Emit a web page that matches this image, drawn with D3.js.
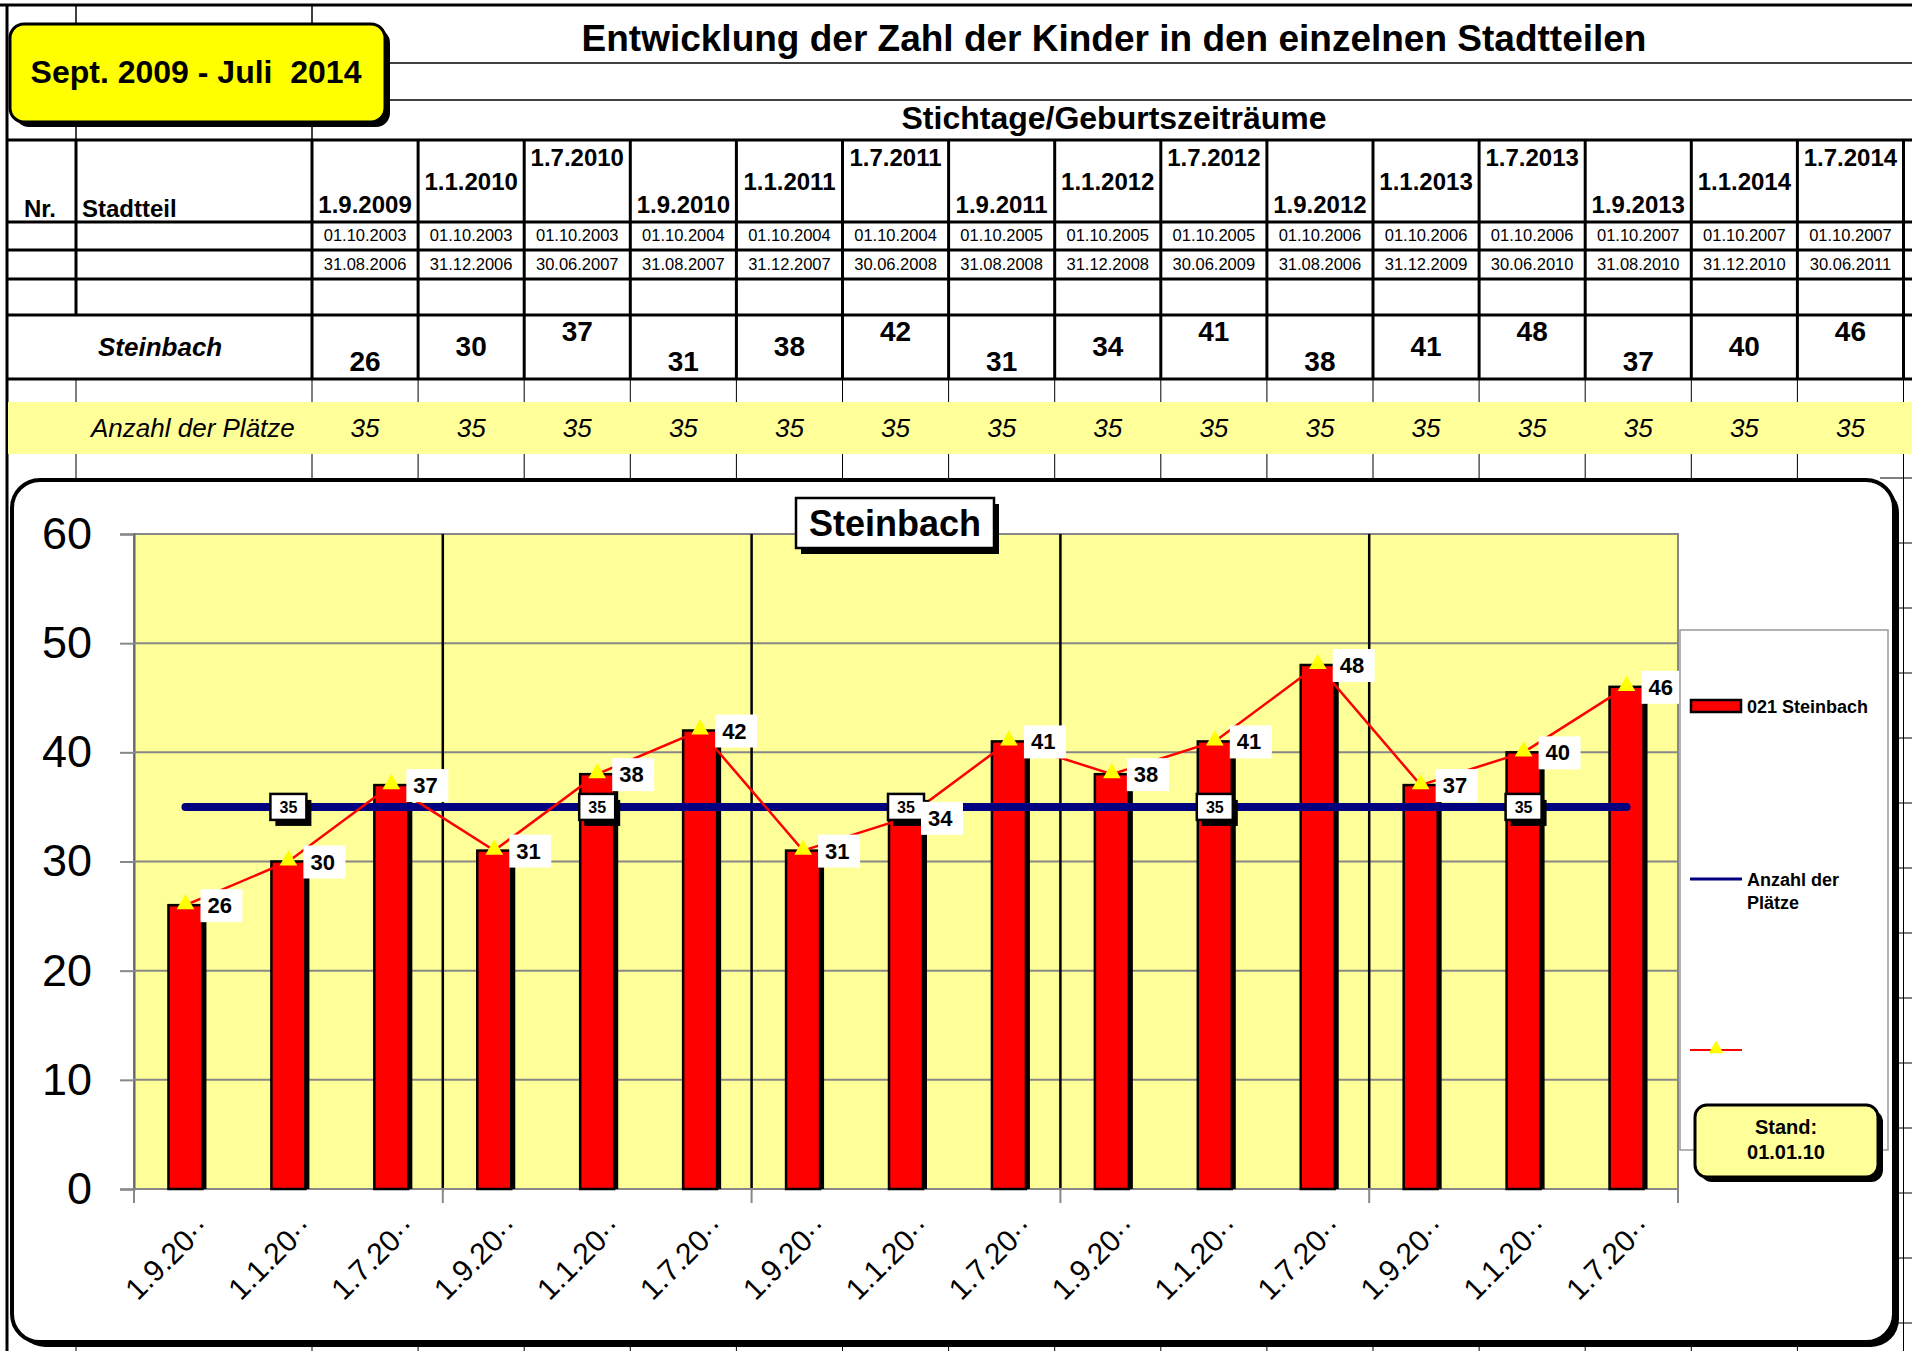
<!DOCTYPE html>
<html>
<head>
<meta charset="utf-8">
<script src="https://cdn.jsdelivr.net/npm/d3@7"></script>
<style>
  body { margin: 0; background: #fff; }
  text { font-family: "Liberation Sans", Arial, sans-serif; }
</style>
</head>
<body>
<script>
// Stichtage / Geburtszeitraeume
const stichtage = ["1.9.2009","1.1.2010","1.7.2010","1.9.2010","1.1.2011","1.7.2011","1.9.2011","1.1.2012","1.7.2012","1.9.2012","1.1.2013","1.7.2013","1.9.2013","1.1.2014","1.7.2014"];
const geburtVon = ["01.10.2003","01.10.2003","01.10.2003","01.10.2004","01.10.2004","01.10.2004","01.10.2005","01.10.2005","01.10.2005","01.10.2006","01.10.2006","01.10.2006","01.10.2007","01.10.2007","01.10.2007"];
const geburtBis = ["31.08.2006","31.12.2006","30.06.2007","31.08.2007","31.12.2007","30.06.2008","31.08.2008","31.12.2008","30.06.2009","31.08.2006","31.12.2009","30.06.2010","31.08.2010","31.12.2010","30.06.2011"];
const kinder = [26, 30, 37, 31, 38, 42, 31, 34, 41, 38, 41, 48, 37, 40, 46];
const plaetze = [35, 35, 35, 35, 35, 35, 35, 35, 35, 35, 35, 35, 35, 35, 35];
const yTicks = [0, 10, 20, 30, 40, 50, 60];

const W = 1912, H = 1351;
const YELLOW = "#ffff99";

const svg = d3.select("body").append("svg")
    .attr("width", W)
    .attr("height", H);

// ---------- spreadsheet part ----------
const col = d3.scaleBand()
    .domain(stichtage)
    .range([312, 312 + 15 * 106.1]);

function hline(y, x1, x2, w) {
  svg.append("line").attr("x1", x1).attr("x2", x2).attr("y1", y).attr("y2", y)
      .attr("stroke", "#000").attr("stroke-width", w);
}
function vline(x, y1, y2, w) {
  svg.append("line").attr("x1", x).attr("x2", x).attr("y1", y1).attr("y2", y2)
      .attr("stroke", "#000").attr("stroke-width", w);
}

// outer border
hline(5, 0, W, 3);
vline(7, 4, H, 3);

// title area
vline(76, 5, 140, 1.5);
vline(312, 5, 140, 1.5);
hline(63, 388, W, 1.5);
hline(100, 388, W, 1.5);

// header + value rows
[140, 222, 250, 279, 315, 379].forEach(y => hline(y, 7, W, 3));
vline(76, 140, 315, 3);
const colEdges = stichtage.map(d => col(d)).concat([col.range()[1]]);
colEdges.forEach(x => vline(x, 140, 379, 3));

// thin grid below (columns run behind the chart box)
[76].concat(colEdges).forEach(x => vline(x, 379, H, 1));
// row stubs on the right of the chart box
d3.range(478, H, 65).forEach(y => hline(y, 1880, W, 1));

// yellow band "Anzahl der Plätze"
svg.append("rect").attr("x", 8).attr("y", 402).attr("width", W).attr("height", 52).attr("fill", YELLOW);

// titles
svg.append("text").attr("x", 1114).attr("y", 51).attr("text-anchor", "middle")
    .style("font-size", "37px").style("font-weight", "bold")
    .text("Entwicklung der Zahl der Kinder in den einzelnen Stadtteilen");
svg.append("text").attr("x", 1114).attr("y", 129).attr("text-anchor", "middle")
    .style("font-size", "32px").style("font-weight", "bold")
    .text("Stichtage/Geburtszeiträume");

// yellow period box
svg.append("rect").attr("x", 15).attr("y", 29).attr("width", 375).attr("height", 98).attr("rx", 14)
    .attr("fill", "#000");
svg.append("rect").attr("x", 10).attr("y", 24).attr("width", 375).attr("height", 98).attr("rx", 14)
    .attr("fill", "#ffff00").attr("stroke", "#000").attr("stroke-width", 3);
svg.append("text").attr("x", 196).attr("y", 83).attr("text-anchor", "middle")
    .style("font-size", "32px").style("font-weight", "bold").style("white-space", "pre")
    .text("Sept. 2009 - Juli  2014");

// row headings
svg.append("text").attr("x", 24).attr("y", 217).style("font-size", "24px").style("font-weight", "bold").text("Nr.");
svg.append("text").attr("x", 82).attr("y", 217).style("font-size", "24px").style("font-weight", "bold").text("Stadtteil");
svg.append("text").attr("x", 98).attr("y", 356).style("font-size", "26px").style("font-weight", "bold")
    .style("font-style", "italic").text("Steinbach");
svg.append("text").attr("x", 91).attr("y", 437).style("font-size", "26px")
    .style("font-style", "italic").text("Anzahl der Plätze");

const cc = d => col(d) + col.bandwidth() / 2;
const headBase = [213, 190, 166];
const valBase = [371, 356, 341];

svg.selectAll(".hdate").data(stichtage).enter().append("text")
    .attr("x", d => cc(d)).attr("y", (d, i) => headBase[i % 3])
    .attr("text-anchor", "middle").style("font-size", "24px").style("font-weight", "bold")
    .text(d => d);
svg.selectAll(".von").data(geburtVon).enter().append("text")
    .attr("x", (d, i) => cc(stichtage[i])).attr("y", 241)
    .attr("text-anchor", "middle").style("font-size", "16.5px").text(d => d);
svg.selectAll(".bis").data(geburtBis).enter().append("text")
    .attr("x", (d, i) => cc(stichtage[i])).attr("y", 270)
    .attr("text-anchor", "middle").style("font-size", "16.5px").text(d => d);
svg.selectAll(".kval").data(kinder).enter().append("text")
    .attr("x", (d, i) => cc(stichtage[i])).attr("y", (d, i) => valBase[i % 3])
    .attr("text-anchor", "middle").style("font-size", "28px").style("font-weight", "bold").text(d => d);
svg.selectAll(".pval").data(plaetze).enter().append("text")
    .attr("x", (d, i) => cc(stichtage[i])).attr("y", 437)
    .attr("text-anchor", "middle").style("font-size", "26px").style("font-style", "italic").text(d => d);

// ---------- chart box ----------
svg.append("rect").attr("x", 17).attr("y", 485).attr("width", 1882).attr("height", 862).attr("rx", 28)
    .attr("fill", "#000");
svg.append("rect").attr("x", 12).attr("y", 480).attr("width", 1882).attr("height", 862).attr("rx", 28)
    .attr("fill", "#fff").attr("stroke", "#000").attr("stroke-width", 4);

const x = d3.scaleBand().domain(stichtage).range([134, 1678]);
const y = d3.scaleLinear().domain([0, 60]).range([1189, 534]);
const cx = d => x(d) + x.bandwidth() / 2;

// plot area
svg.append("rect").attr("x", 134).attr("y", y(60)).attr("width", 1544).attr("height", y(0) - y(60))
    .attr("fill", YELLOW).attr("stroke", "#888").attr("stroke-width", 2);

// gridlines + y axis
svg.append("g")
    .attr("transform", "translate(134,0)")
    .call(d3.axisLeft(y).tickValues(yTicks).tickSize(14).tickPadding(28))
    .call(g => g.select(".domain").attr("stroke", "#666").attr("stroke-width", 2))
    .call(g => g.selectAll(".tick line").attr("stroke", "#888").attr("stroke-width", 2))
    .call(g => g.selectAll(".tick text").style("font-size", "45px").attr("fill", "#000")
        .style("font-family", "Liberation Sans, Arial, sans-serif"));
svg.append("g").selectAll("line").data(yTicks.slice(1, -1)).enter().append("line")
    .attr("x1", 134).attr("x2", 1678).attr("y1", d => y(d)).attr("y2", d => y(d))
    .attr("stroke", "#888").attr("stroke-width", 2);

// group separators (every 3 Stichtage)
const groupEdges = stichtage.filter((d, i) => i % 3 === 0 && i > 0).map(d => x(d));
svg.append("g").selectAll("line").data(groupEdges).enter().append("line")
    .attr("x1", d => d).attr("x2", d => d).attr("y1", y(60)).attr("y2", y(0))
    .attr("stroke", "#000").attr("stroke-width", 2.5);

// x axis
svg.append("line").attr("x1", 134).attr("x2", 1678).attr("y1", y(0)).attr("y2", y(0))
    .attr("stroke", "#888").attr("stroke-width", 2);
svg.append("g").selectAll("line").data([134].concat(groupEdges, [1678])).enter().append("line")
    .attr("x1", d => d).attr("x2", d => d).attr("y1", y(0)).attr("y2", y(0) + 14)
    .attr("stroke", "#888").attr("stroke-width", 2);
svg.append("g")
    .attr("transform", `translate(0,${y(0)})`)
    .call(d3.axisBottom(x).tickSize(0).tickFormat(d => d.slice(0, 6) + "\u00b7\u00b7"))
    .call(g => g.select(".domain").remove())
    .selectAll("text")
    .style("font-size", "30px").style("font-family", "Liberation Sans, Arial, sans-serif")
    .attr("fill", "#000")
    .style("text-anchor", "end")
    .attr("transform", "translate(18,32) rotate(-45)")
    .attr("dy", "0.35em")
    .attr("y", 0);

// bars
const bw = 34;
svg.append("g").selectAll("rect").data(kinder).enter().append("rect")
    .attr("x", (d, i) => cx(stichtage[i]) - bw / 2 + 4)
    .attr("y", d => y(d) + 4)
    .attr("width", bw).attr("height", d => y(0) - y(d) - 4)
    .attr("fill", "#000");
svg.append("g").selectAll("rect").data(kinder).enter().append("rect")
    .attr("x", (d, i) => cx(stichtage[i]) - bw / 2)
    .attr("y", d => y(d))
    .attr("width", bw).attr("height", d => y(0) - y(d))
    .attr("fill", "#ff0000").attr("stroke", "#000").attr("stroke-width", 2.5);

// Anzahl der Plätze line
svg.append("path")
    .datum(plaetze)
    .attr("fill", "none").attr("stroke", "#000080").attr("stroke-width", 8).attr("stroke-linecap", "round")
    .attr("d", d3.line().x((d, i) => cx(stichtage[i])).y(d => y(d)));

// red line with triangles
svg.append("path")
    .datum(kinder)
    .attr("fill", "none").attr("stroke", "#ff0000").attr("stroke-width", 2.5)
    .attr("d", d3.line().x((d, i) => cx(stichtage[i])).y(d => y(d)));
svg.append("g").selectAll("path").data(kinder).enter().append("path")
    .attr("transform", (d, i) => `translate(${cx(stichtage[i])},${y(d) - 1})`)
    .attr("d", d3.symbol().type(d3.symbolTriangle).size(135))
    .attr("fill", "#ffff00");

// 35 labels on the blue line
const pl = svg.append("g").selectAll("g").data(plaetze.map((v, i) => [v, i]).filter(p => p[1] % 3 === 1))
    .enter().append("g")
    .attr("transform", p => `translate(${cx(stichtage[p[1]])},${y(p[0])})`);
pl.append("rect").attr("x", -13).attr("y", -7).attr("width", 36).attr("height", 26).attr("fill", "#000");
pl.append("rect").attr("x", -18).attr("y", -13).attr("width", 36).attr("height", 26)
    .attr("fill", "#fff").attr("stroke", "#000").attr("stroke-width", 2.5);
pl.append("text").attr("y", 6).attr("text-anchor", "middle")
    .style("font-size", "16px").style("font-weight", "bold").text(p => p[0]);

// value labels with white background
const vl = svg.append("g").selectAll("g").data(kinder).enter().append("g")
    .attr("transform", (d, i) => `translate(${cx(stichtage[i])},${y(d)})`);
vl.append("rect").attr("x", 15).attr("y", -16).attr("width", 42).attr("height", 33).attr("fill", "#fff");
vl.append("text").attr("x", 22).attr("y", 8)
    .style("font-size", "22px").style("font-weight", "bold").text(d => d);

// chart title
svg.append("rect").attr("x", 801).attr("y", 504).attr("width", 198).attr("height", 50).attr("fill", "#000");
svg.append("rect").attr("x", 796).attr("y", 498).attr("width", 198).attr("height", 50)
    .attr("fill", "#fff").attr("stroke", "#000").attr("stroke-width", 2.5);
svg.append("text").attr("x", 895).attr("y", 536).attr("text-anchor", "middle")
    .style("font-size", "36px").style("font-weight", "bold").text("Steinbach");

// legend
svg.append("rect").attr("x", 1680).attr("y", 630).attr("width", 208).attr("height", 520)
    .attr("fill", "#fff").attr("stroke", "#999").attr("stroke-width", 1.5);
svg.append("rect").attr("x", 1691).attr("y", 700).attr("width", 50).attr("height", 12)
    .attr("fill", "#ff0000").attr("stroke", "#000").attr("stroke-width", 2.5);
svg.append("text").attr("x", 1747).attr("y", 713).style("font-size", "18px").style("font-weight", "bold")
    .text("021 Steinbach");
svg.append("line").attr("x1", 1690).attr("x2", 1742).attr("y1", 879).attr("y2", 879)
    .attr("stroke", "#000080").attr("stroke-width", 3);
svg.append("text").attr("x", 1747).attr("y", 886).style("font-size", "18px").style("font-weight", "bold")
    .text("Anzahl der");
svg.append("text").attr("x", 1747).attr("y", 909).style("font-size", "18px").style("font-weight", "bold")
    .text("Plätze");
svg.append("line").attr("x1", 1690).attr("x2", 1742).attr("y1", 1050).attr("y2", 1050)
    .attr("stroke", "#ff0000").attr("stroke-width", 2);
svg.append("path").attr("transform", "translate(1716,1049)")
    .attr("d", d3.symbol().type(d3.symbolTriangle).size(95)).attr("fill", "#ffff00");

// Stand box
svg.append("rect").attr("x", 1700).attr("y", 1110).attr("width", 183).attr("height", 72).attr("rx", 12)
    .attr("fill", "#000");
svg.append("rect").attr("x", 1695).attr("y", 1105).attr("width", 183).attr("height", 72).attr("rx", 12)
    .attr("fill", YELLOW).attr("stroke", "#000").attr("stroke-width", 3);
svg.append("text").attr("x", 1786).attr("y", 1134).attr("text-anchor", "middle")
    .style("font-size", "20px").style("font-weight", "bold").text("Stand:");
svg.append("text").attr("x", 1786).attr("y", 1159).attr("text-anchor", "middle")
    .style("font-size", "20px").style("font-weight", "bold").text("01.01.10");
</script>
</body>
</html>
